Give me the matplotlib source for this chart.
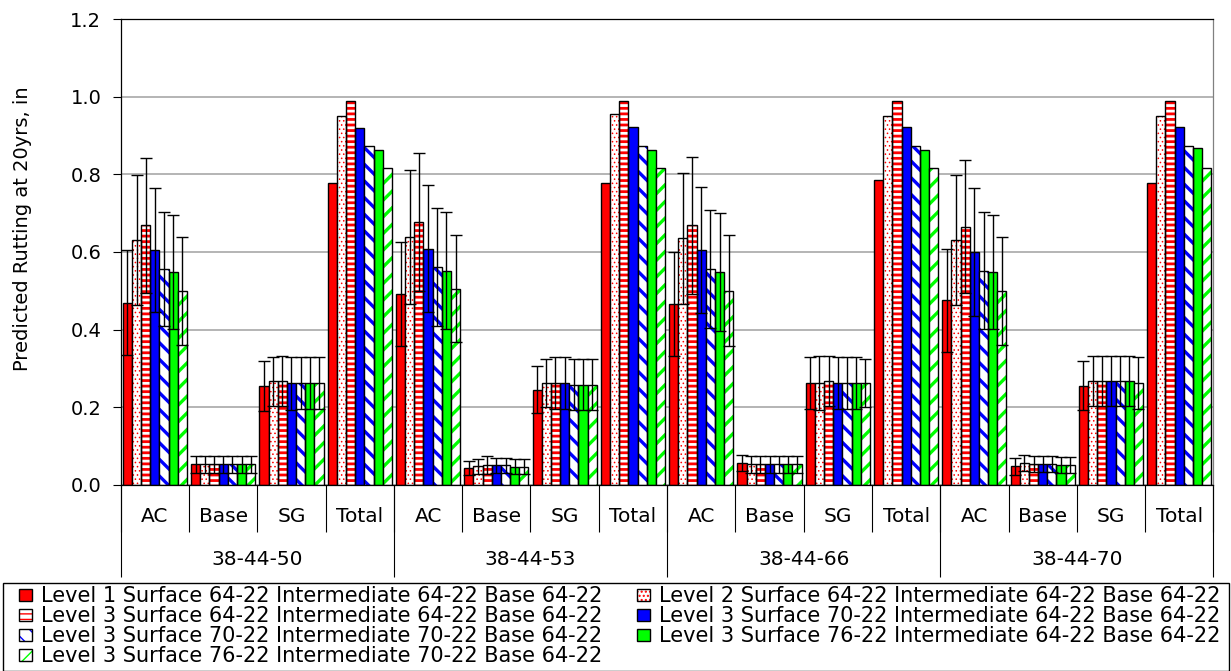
import numpy as np
import matplotlib
matplotlib.use("Agg")
import matplotlib.pyplot as plt
from matplotlib.patches import Rectangle

# categories
parts = ["AC", "Base", "SG", "Total"]
groups = ["38-44-50", "38-44-53", "38-44-66", "38-44-70"]

labels = [
    "Level 1 Surface 64-22 Intermediate 64-22 Base 64-22",
    "Level 2 Surface 64-22 Intermediate 64-22 Base 64-22",
    "Level 3 Surface 64-22 Intermediate 64-22 Base 64-22",
    "Level 3 Surface 70-22 Intermediate 64-22 Base 64-22",
    "Level 3 Surface 70-22 Intermediate 70-22 Base 64-22",
    "Level 3 Surface 76-22 Intermediate 64-22 Base 64-22",
    "Level 3 Surface 76-22 Intermediate 70-22 Base 64-22",
]

# values: AC, Base, SG, Total for each section
s1 = [0.469, 0.052, 0.255, 0.777, 0.492, 0.043, 0.245, 0.777,
      0.466, 0.056, 0.262, 0.786, 0.475, 0.047, 0.255, 0.777]
s2 = [0.630, 0.052, 0.267, 0.950, 0.639, 0.047, 0.262, 0.956,
      0.635, 0.052, 0.262, 0.950, 0.630, 0.056, 0.267, 0.950]
s3 = [0.669, 0.052, 0.267, 0.989, 0.678, 0.050, 0.262, 0.988,
      0.669, 0.052, 0.267, 0.989, 0.665, 0.054, 0.267, 0.989]
s4 = [0.605, 0.052, 0.261, 0.920, 0.608, 0.050, 0.262, 0.923,
      0.605, 0.052, 0.262, 0.923, 0.600, 0.054, 0.267, 0.923]
s5 = [0.556, 0.052, 0.261, 0.872, 0.561, 0.050, 0.258, 0.872,
      0.556, 0.052, 0.262, 0.872, 0.552, 0.054, 0.267, 0.872]
s6 = [0.548, 0.052, 0.262, 0.864, 0.552, 0.046, 0.258, 0.864,
      0.548, 0.052, 0.262, 0.864, 0.548, 0.050, 0.267, 0.868]
s7 = [0.500, 0.052, 0.262, 0.816, 0.505, 0.046, 0.258, 0.816,
      0.500, 0.052, 0.262, 0.816, 0.500, 0.050, 0.262, 0.816]

# error bars (none on Total)
e1 = [0.135, 0.021, 0.064, 0, 0.134, 0.018, 0.060, 0,
      0.134, 0.021, 0.066, 0, 0.133, 0.022, 0.063, 0]
e2 = [0.168, 0.021, 0.063, 0, 0.173, 0.020, 0.062, 0,
      0.169, 0.021, 0.069, 0, 0.168, 0.021, 0.064, 0]
e3 = [0.174, 0.021, 0.064, 0, 0.178, 0.023, 0.066, 0,
      0.177, 0.021, 0.064, 0, 0.172, 0.021, 0.064, 0]
e4 = [0.160, 0.021, 0.068, 0, 0.164, 0.019, 0.066, 0,
      0.163, 0.021, 0.066, 0, 0.164, 0.021, 0.064, 0]
e5 = [0.147, 0.021, 0.067, 0, 0.152, 0.019, 0.066, 0,
      0.153, 0.021, 0.066, 0, 0.151, 0.021, 0.064, 0]
e6 = [0.147, 0.021, 0.066, 0, 0.151, 0.019, 0.066, 0,
      0.152, 0.021, 0.066, 0, 0.147, 0.021, 0.064, 0]
e7 = [0.139, 0.021, 0.066, 0, 0.138, 0.019, 0.066, 0,
      0.143, 0.021, 0.062, 0, 0.139, 0.021, 0.067, 0]

values = [s1, s2, s3, s4, s5, s6, s7]
errors = [e1, e2, e3, e4, e5, e6, e7]

# (face, hatch colour, hatch, hatch linewidth)
styles = [
    ("#FF0000", None, None, 0),
    ("white", "#FF0000", "....", 0.6),
    ("white", "#FF0000", "---", 2.0),
    ("#0000FF", None, None, 0),
    ("white", "#0000FF", "\\\\", 2.4),
    ("#00FF00", None, None, 0),
    ("white", "#00FF00", "//", 2.4),
]

fig = plt.figure(figsize=(12.31, 6.71), dpi=100)
ax = fig.add_axes([0.0981, 0.2777, 0.8876, 0.6936])

n_cat = len(groups) * len(parts)
x = np.arange(n_cat)
nser = len(values)
w = 0.94 / nser

handles = []
for i in range(nser):
    xs = x + (i - (nser - 1) / 2) * w
    face, hcol, hatch, hlw = styles[i]
    if hatch is None:
        b = ax.bar(xs, values[i], w, color=face, edgecolor="black",
                   linewidth=1.0, zorder=2)
        handles.append(b)
    else:
        with plt.rc_context({"hatch.linewidth": hlw}):
            b1 = ax.bar(xs, values[i], w, color=face, edgecolor=hcol,
                        hatch=hatch, linewidth=0, zorder=2)
            for p in b1:
                if hasattr(p, "set_hatch_linewidth"):
                    p.set_hatch_linewidth(hlw)
        b2 = ax.bar(xs, values[i], w, facecolor="none", edgecolor="black",
                    linewidth=1.0, zorder=2.1)
        handles.append((b1, b2))
    err = np.array(errors[i])
    m = err > 0
    ax.errorbar(xs[m], np.array(values[i])[m], yerr=err[m], fmt="none",
                ecolor="black", elinewidth=1.0, capsize=4, capthick=1.0,
                zorder=3)

ax.set_xlim(-0.5, n_cat - 0.5)
ax.set_ylim(0, 1.2)
ax.set_yticks(np.arange(0, 1.21, 0.2))
ax.set_yticklabels(["%.1f" % v for v in np.arange(0, 1.21, 0.2)])
ax.yaxis.grid(True, color="#a0a0a0", linewidth=1.1)
ax.set_axisbelow(True)
ax.tick_params(axis="y", labelsize=14, length=6, width=0.8, pad=8)
for sp in ax.spines.values():
    sp.set_linewidth(0.9)
ax.spines["right"].set_color("#808080")
ax.set_ylabel("Predicted Rutting at 20yrs, in", fontsize=14)
ax.yaxis.set_label_coords(-0.081, 0.549)

# category labels + separators
ax.set_xticks(x)
ax.set_xticklabels(parts * len(groups))
ax.set_xticks(np.arange(-0.5, n_cat, 1), minor=True)
ax.tick_params(axis="x", which="major", length=0, pad=16, labelsize=14.5)
ax.tick_params(axis="x", which="minor", length=34, width=0.8)

# group labels + separators
sec = ax.secondary_xaxis("bottom")
sec.set_xticks(np.arange(-0.5, n_cat, len(parts)), labels=[""] * (len(groups) + 1))
sec.set_xticks(np.arange(len(groups)) * len(parts) + (len(parts) - 1) / 2,
               labels=groups, minor=True)
sec.tick_params(axis="x", which="major", length=66, width=0.8)
sec.tick_params(axis="x", which="minor", length=0, pad=47, labelsize=14.5)
sec.spines["bottom"].set_visible(False)

# legend
order = [0, 2, 4, 6, 1, 3, 5]
leg = fig.legend([handles[k] for k in order], [labels[k] for k in order],
                 ncol=2, loc="upper left", mode="expand",
                 bbox_to_anchor=(19.3 / 1231, 0, 1201 / 1231, 1 - 586.5 / 671),
                 frameon=False, fontsize=15, borderpad=0, borderaxespad=0,
                 handlelength=0.63, handleheight=0.5, handletextpad=0.43,
                 labelspacing=0.0, columnspacing=1.0)
fig.patches.append(Rectangle((3.3 / 1231, 1 - 670.5 / 671), 1225.5 / 1231,
                             87.5 / 671, transform=fig.transFigure,
                             facecolor="none", edgecolor="black", linewidth=1.0))

fig.savefig("out.png", dpi=100)
